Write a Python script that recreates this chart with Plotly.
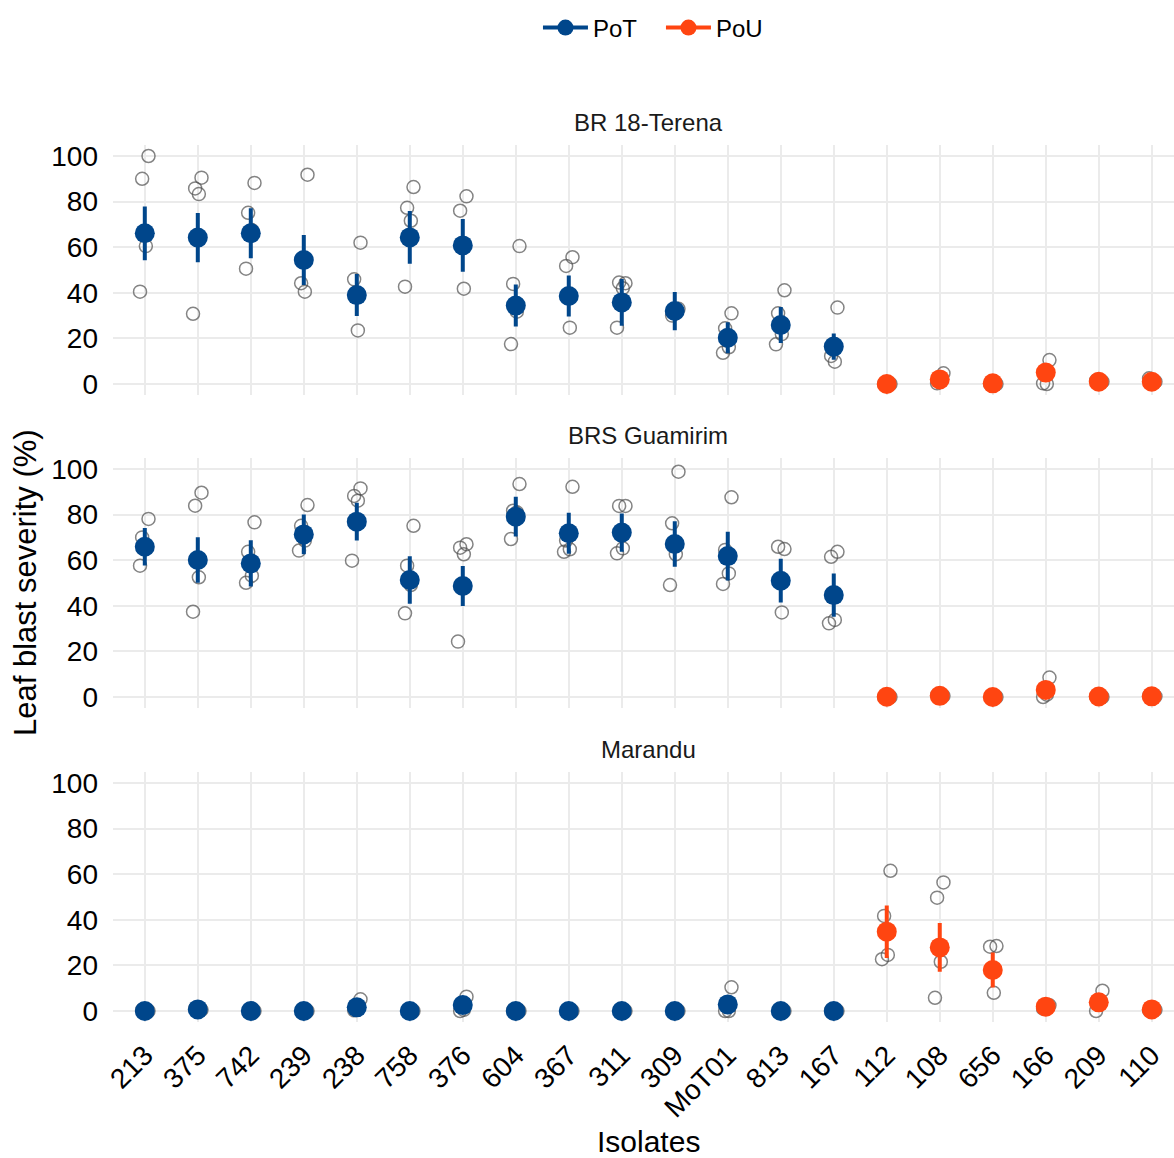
import plotly.graph_objects as go

# Isolates in plotting order; the first 14 belong to PoT, the last 6 to PoU
isolates = ["213", "375", "742", "239", "238", "758", "376", "604", "367", "311",
            "309", "MoT01", "813", "167", "112", "108", "656", "166", "209", "110"]
lineage = ["PoT"] * 14 + ["PoU"] * 6

hosts = ["BR 18-Terena", "BRS Guamirim", "Marandu"]

# Mean leaf blast severity (%) per isolate, and half-width of the error bar
terena_mean = [66.1, 64.2, 66.1, 54.4, 39.0, 64.3, 60.8, 34.4, 38.6, 35.8,
               32.0, 20.3, 25.9, 16.4, 0.0, 2.0, 0.3, 5.0, 1.0, 1.0]
terena_err = [11.8, 10.8, 11.0, 11.0, 9.2, 11.6, 11.6, 9.2, 9.0, 10.2,
              8.4, 6.8, 7.9, 5.8, 0.0, 1.0, 0.0, 2.5, 0.5, 0.5]
guamirim_mean = [65.9, 60.1, 58.6, 71.3, 76.9, 51.3, 48.7, 79.1, 71.8, 72.1,
                 67.1, 61.8, 51.0, 44.7, 0.1, 0.5, 0.0, 3.1, 0.2, 0.3]
guamirim_err = [8.2, 10.0, 10.1, 8.7, 8.3, 10.4, 8.8, 8.7, 9.0, 8.4,
                10.0, 10.7, 9.6, 9.5, 0.0, 0.3, 0.0, 2.0, 0.0, 0.2]
marandu_mean = [0.0, 0.7, 0.0, 0.0, 1.6, 0.0, 2.6, 0.0, 0.0, 0.0,
                0.0, 2.9, 0.0, 0.0, 34.8, 27.9, 18.0, 1.9, 3.8, 0.7]
marandu_err = [0.0, 0.5, 0.0, 0.0, 1.2, 0.0, 1.5, 0.0, 0.0, 0.0,
               0.0, 2.5, 0.0, 0.0, 11.5, 10.7, 7.7, 0.8, 2.2, 0.4]

# Individual replicate severities (%) per isolate
terena_reps = [
    [100, 90, 60.5, 40.5], [90.5, 85.8, 83.3, 30.8], [88.2, 75.1, 67.5, 50.6],
    [91.8, 44.2, 40.5], [62, 45.9, 23.5], [86.4, 77.3, 71.6, 42.7],
    [82.3, 76.0, 41.8], [60.5, 43.9, 31.7, 17.5], [55.6, 51.8, 24.7],
    [44.2, 44.5, 42, 24.7], [33, 30], [31, 24.4, 16.1, 13.7],
    [41.1, 31, 21.9, 17.4], [33.5, 12.3, 9.8], [0, 0], [4.7, 0.3], [0, 0],
    [10.5, 0.3, 0], [1, 1.5], [1, 2.5],
]
guamirim_reps = [
    [78.1, 70.0, 65.6, 57.6], [89.6, 83.9, 52.5, 37.4], [76.6, 63.7, 53.2, 50.1],
    [84.2, 75.1, 68.6, 64.2], [91.5, 88.2, 86.1, 59.8], [75.1, 57.6, 49.1, 36.7],
    [67.0, 65.5, 62.6, 24.3], [93.4, 81.7, 81.0, 69.3], [92.2, 68.6, 64.8, 63.7],
    [83.8, 83.8, 65.2, 63.0], [98.8, 76.2, 62.6, 49.1], [87.6, 64.5, 54.2, 49.6],
    [64.9, 65.9, 37.1], [63.7, 61.5, 33.8, 32.3], [0, 0], [0.5, 0.8], [0],
    [8.5, 0, 1], [0, 0.2], [0.3, 0.5],
]
marandu_reps = [
    [0, 0.5], [0.5, 1], [0], [0], [5.1, 0.3], [0], [6.3, 0, 0.5], [0, 0.3],
    [0], [0], [0], [10.4, 0, 0], [0], [0, 0.3], [61.5, 41.7, 24.6, 22.7],
    [56.4, 49.7, 21.6, 5.8], [28.5, 28.2, 8.0], [2.5, 1], [8.9, 0], [0.5, 0.3],
]

y_ticks = [0, 20, 40, 60, 80, 100]

means = [terena_mean, guamirim_mean, marandu_mean]
errs = [terena_err, guamirim_err, marandu_err]
reps = [terena_reps, guamirim_reps, marandu_reps]

colors = {"PoT": "#00468B", "PoU": "#FF4511"}
jitter = [0.07, -0.05, 0.02, -0.09, 0.1]

W, H = 1174, 1158
x_left = 113 / W
# panel (top, bottom) in pixels, from the top of the page
panels_px = [(144.6, 395.4), (457.6, 708.4), (771.6, 1022.4)]

fig = go.Figure()
font = "Liberation Sans, Arial, sans-serif"

for p in range(3):
    ax = "" if p == 0 else str(p + 1)
    xref, yref = "x" + ax, "y" + ax
    # replicates: open grey circles, slightly jittered
    rx, ry = [], []
    for i, vals in enumerate(reps[p]):
        for j, v in enumerate(vals):
            rx.append(i + jitter[j % len(jitter)])
            ry.append(v)
    fig.add_trace(go.Scatter(
        x=rx, y=ry, mode="markers", xaxis=xref, yaxis=yref, showlegend=False,
        marker=dict(symbol="circle-open", size=13, color="rgba(80,80,80,0.7)",
                    line=dict(width=1.5)),
        hoverinfo="y"))
    # means with error bars per lineage
    for lin in ["PoT", "PoU"]:
        idx = [i for i, l in enumerate(lineage) if l == lin]
        fig.add_trace(go.Scatter(
            x=idx, y=[means[p][i] for i in idx], mode="markers",
            xaxis=xref, yaxis=yref, showlegend=False, name=lin,
            error_y=dict(type="data", array=[errs[p][i] for i in idx],
                         color=colors[lin], thickness=4, width=0),
            marker=dict(size=20, color=colors[lin])))

# legend entries
for lin in ["PoT", "PoU"]:
    fig.add_trace(go.Scatter(
        x=[None], y=[None], mode="lines+markers", name=lin,
        line=dict(color=colors[lin], width=4),
        marker=dict(size=20, color=colors[lin])))

layout = dict(
    width=W, height=H, margin=dict(l=0, r=0, t=0, b=0),
    plot_bgcolor="white", paper_bgcolor="white",
    font=dict(family=font, color="black"),
    showlegend=True,
    legend=dict(orientation="h", x=0.563, xanchor="center", y=1 - 28 / H,
                yanchor="middle", font=dict(size=24), itemsizing="trace",
                itemwidth=45, entrywidth=63, entrywidthmode="pixels"),
)
annotations = []
for p, (top, bot) in enumerate(panels_px):
    ax = "" if p == 0 else str(p + 1)
    layout["xaxis" + ax] = dict(
        domain=[x_left, 1], range=[-0.6, 19.42], tickmode="array",
        tickvals=list(range(len(isolates))), ticktext=isolates,
        showticklabels=(p == 2), tickangle=-45, tickfont=dict(size=28),
        showgrid=True, gridcolor="#EBEBEB", gridwidth=2, zeroline=False,
        showline=False, ticks="", automargin=False, ticklabelstandoff=10,
        anchor="y" + ax)
    layout["yaxis" + ax] = dict(
        domain=[1 - bot / H, 1 - top / H], range=[-5, 105], tickmode="array",
        tickvals=y_ticks, tickfont=dict(size=28), showgrid=True,
        gridcolor="#EBEBEB", gridwidth=2, zeroline=False, showline=False,
        ticks="", automargin=False, ticklabelstandoff=14, anchor="x" + ax)
    annotations.append(dict(
        text=hosts[p], xref="x" + ax, x=9.5, yref="paper",
        y=1 - (top - 22) / H, yanchor="middle", showarrow=False,
        font=dict(size=24, color="#1A1A1A")))

annotations.append(dict(text="Isolates", xref="x3", x=9.5, yref="paper",
                        y=1 - 1141 / H, yanchor="middle", showarrow=False,
                        font=dict(size=30)))
annotations.append(dict(text="Leaf blast severity (%)", xref="paper", x=25 / W,
                        xanchor="center", yref="paper", y=1 - 583 / H,
                        yanchor="middle", textangle=-90, showarrow=False,
                        font=dict(size=31)))
layout["annotations"] = annotations

fig.update_layout(**layout)
fig.write_html("out.html")
